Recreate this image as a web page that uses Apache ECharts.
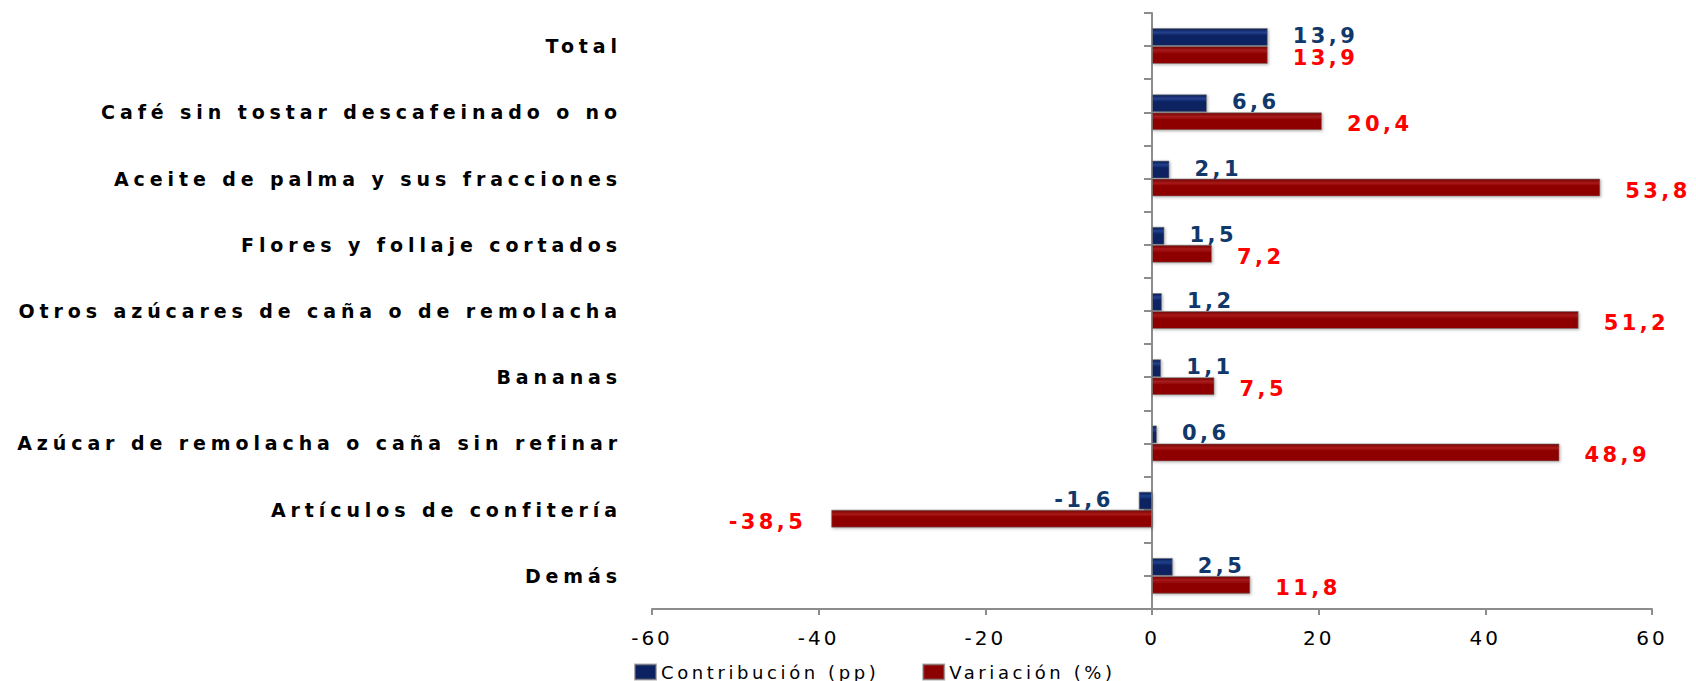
<!DOCTYPE html>
<html>
<head>
<meta charset="utf-8">
<script src="https://cdn.jsdelivr.net/npm/echarts@6/dist/echarts.min.js"></script>
<style>
html,body{margin:0;padding:0;background:#fff;}
#chart{width:1696px;height:681px;}
</style>
</head>
<body>
<div id="chart"></div>
<script>
const categories = ['Total','Café sin tostar descafeinado o no','Aceite de palma y sus fracciones','Flores y follaje cortados','Otros azúcares de caña o de remolacha','Bananas','Azúcar de remolacha o caña sin refinar','Artículos de confitería','Demás'];
const contribucion = [13.9, 6.6, 2.1, 1.5, 1.2, 1.1, 0.6, -1.6, 2.5];
const variacion = [13.9, 20.4, 53.8, 7.2, 51.2, 7.5, 48.9, -38.5, 11.8];
const seriesNames = ['Contribución (pp)', 'Variación (%)'];
const xTicks = { min: -60, max: 60, interval: 20 };

const FONT = 'DejaVu Sans';
const fmt = v => v.toFixed(1).replace('.', ',');

function grad(top, stripe, base) {
  return new echarts.graphic.LinearGradient(0, 0, 0, 1, [
    { offset: 0, color: top },
    { offset: 0.22, color: stripe },
    { offset: 0.42, color: base },
    { offset: 1, color: base }
  ]);
}

function mkData(vals, labelColor, dy) {
  return vals.map(v => ({
    value: v,
    label: {
      show: true,
      position: v < 0 ? 'left' : 'right',
      distance: 25,
      offset: [0, dy],
      color: labelColor,
      fontFamily: FONT,
      fontWeight: 'bold',
      fontSize: 21,
      formatter: p => fmt(p.value)
    }
  }));
}

const blankTicks = new Array(categories.length * 2).fill('');

const chart = echarts.init(document.getElementById('chart'), null, { renderer: 'svg' });
chart.setOption({
  animation: false,
  backgroundColor: '#ffffff',
  grid: { left: 652, right: 44, top: 13, bottom: 72, containLabel: false },
  legend: {
    left: 629,
    top: 658,
    itemWidth: 21,
    itemHeight: 15,
    itemGap: 104,
    icon: 'rect',
    textStyle: { fontFamily: FONT, fontSize: 18, color: '#000' },
    data: [
      { name: seriesNames[0], itemStyle: { color: '#0b2161' } },
      { name: seriesNames[1], itemStyle: { color: '#8b0000' } }
    ]
  },
  xAxis: {
    type: 'value',
    min: xTicks.min,
    max: xTicks.max,
    interval: xTicks.interval,
    splitLine: { show: false },
    axisLine: { show: true, onZero: false, lineStyle: { color: '#8c8c8c', width: 2 } },
    axisTick: { show: true, length: 6, lineStyle: { color: '#8c8c8c', width: 2 } },
    axisLabel: { fontFamily: FONT, fontSize: 20, color: '#000', margin: 19 }
  },
  yAxis: [
    {
      type: 'category',
      data: categories,
      inverse: true,
      axisLine: { show: false, onZero: false },
      axisTick: { show: false },
      axisLabel: { fontFamily: FONT, fontWeight: 'bold', fontSize: 19, color: '#000', margin: 30 }
    },
    {
      type: 'category',
      data: blankTicks,
      position: 'left',
      axisLine: { show: true, onZero: true, lineStyle: { color: '#8c8c8c', width: 2 } },
      axisTick: { show: true, length: 8, lineStyle: { color: '#8c8c8c', width: 2 } },
      axisLabel: { show: false },
      splitLine: { show: false }
    }
  ],
  series: [
    {
      name: seriesNames[0],
      type: 'bar',
      yAxisIndex: 0,
      barWidth: 18,
      barGap: '0%',
      itemStyle: {
        color: grad('#061a52', '#22418c', '#0b2161'),
        borderColor: 'rgba(120,120,120,0.6)',
        borderWidth: 1,
        shadowColor: 'rgba(0,0,0,0.3)',
        shadowBlur: 3,
        shadowOffsetX: 1,
        shadowOffsetY: 1
      },
      data: mkData(contribucion, '#10386b', -1)
    },
    {
      name: seriesNames[1],
      type: 'bar',
      yAxisIndex: 0,
      barWidth: 18,
      barGap: '0%',
      itemStyle: {
        color: grad('#700000', '#a81a1a', '#8e0000'),
        borderColor: 'rgba(120,120,120,0.6)',
        borderWidth: 1,
        shadowColor: 'rgba(0,0,0,0.3)',
        shadowBlur: 3,
        shadowOffsetX: 1,
        shadowOffsetY: 1
      },
      data: mkData(variacion, '#ff0000', 3)
    }
  ]
});

// the reference text is drawn wide-tracked; add letter spacing per text size
const spacingBySize = { '19px': '4.9px', '21px': '3.4px', '20px': '3px', '18px': '3.6px' };
function applySpacing() {
  document.querySelectorAll('#chart svg text').forEach(t => {
    const fs = getComputedStyle(t).fontSize;
    if (spacingBySize[fs]) t.style.letterSpacing = spacingBySize[fs];
  });
}
applySpacing();
chart.on('finished', applySpacing);
</script>
</body>
</html>
